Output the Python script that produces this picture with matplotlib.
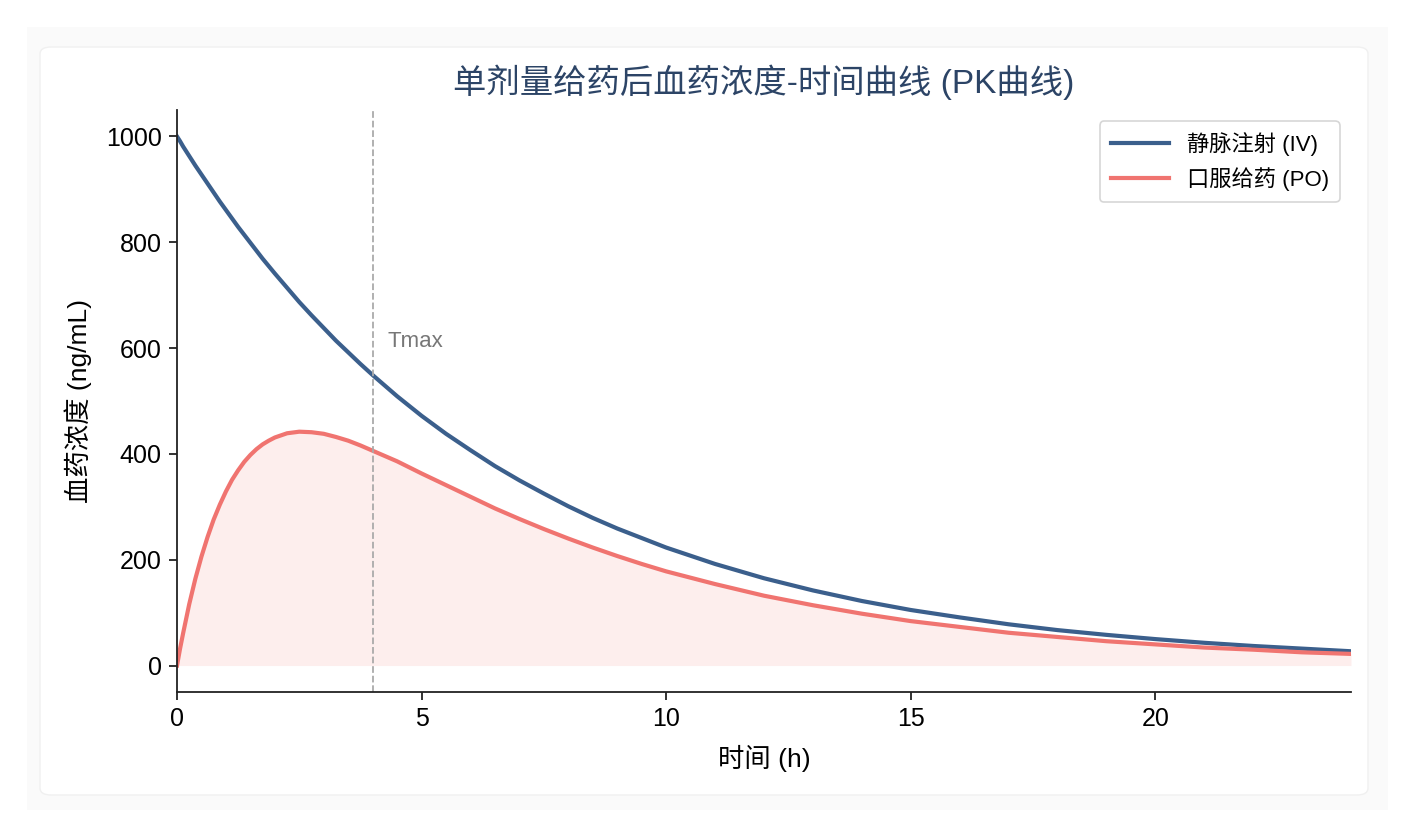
import matplotlib
matplotlib.use("Agg")
import matplotlib.pyplot as plt
from matplotlib.patches import FancyBboxPatch

plt.rcParams['font.family'] = ['Liberation Sans', 'Noto Sans CJK SC', 'DejaVu Sans']

# time points (h)
t = [0, 0.0625, 0.125, 0.25, 0.375, 0.5, 0.625, 0.75, 0.875, 1, 1.125, 1.25,
     1.375, 1.5, 1.625, 1.75, 1.875, 2, 2.25, 2.5, 2.75, 3, 3.25, 3.5, 3.75,
     4, 4.5, 5, 5.5, 6, 6.5, 7, 7.5, 8, 8.5, 9, 9.5, 10, 11, 12, 13, 14, 15,
     16, 17, 18, 19, 20, 21, 22, 23, 24]

# IV concentration (ng/mL)
iv = [1000, 991, 981, 963, 945, 928, 911, 894, 877, 861, 845, 829,
      814, 799, 784, 769, 755, 741, 714, 687, 662, 638, 614, 592, 570,
      549, 509, 472, 438, 407, 377, 350, 325, 301, 279, 259, 241, 223, 192,
      165, 142, 122, 105, 91, 78, 67, 58, 50, 43, 37, 32, 27]

# PO concentration (ng/mL)
po = [0, 32, 61, 116, 164, 206, 243, 276, 304, 329, 351, 369,
      385, 398, 409, 418, 425, 431, 439, 442, 441, 438, 432, 425, 416,
      406, 386, 363, 341, 319, 297, 277, 258, 240, 223, 207, 192, 178, 154,
      132, 114, 98, 84, 73, 62, 54, 46, 40, 34, 30, 25, 22]

tmax = 4

iv_color = '#3b5f8c'
po_color = '#f07470'

fig = plt.figure(figsize=(14.14, 8.38), dpi=100)

# background cards
outer = FancyBboxPatch((27 / 1414, 1 - 810 / 838), (1388 - 27) / 1414, (810 - 27) / 838,
                       boxstyle='square,pad=0', transform=fig.transFigure,
                       facecolor='#fafafa', edgecolor='none', zorder=-3)
inner = FancyBboxPatch((40 / 1414, 1 - 795 / 838), (1368 - 40) / 1414, (795 - 47) / 838,
                       boxstyle='round,pad=0,rounding_size=0.008', transform=fig.transFigure,
                       facecolor='white', edgecolor='#f0f0f0', linewidth=1, zorder=-2)
fig.patches.extend([outer, inner])

ax = fig.add_axes([177 / 1414, 1 - 692 / 838, (1351 - 177) / 1414, (692 - 110) / 838])
ax.set_facecolor('none')

ax.plot(t, iv, color=iv_color, linewidth=3, label='静脉注射 (IV)')
ax.plot(t, po, color=po_color, linewidth=3, label='口服给药 (PO)')
ax.fill_between(t, po, 0, color=po_color, alpha=0.12, linewidth=0)
ax.axvline(tmax, color='#aaaaaa', linestyle='--', linewidth=1.3)
ax.text(tmax + 0.3, 612, 'Tmax', color='#777777', fontsize=16, ha='left', va='center')

ax.set_xlim(0, 24)
ax.set_ylim(-50, 1050)
ax.set_xticks([0, 5, 10, 15, 20])
ax.set_yticks([0, 200, 400, 600, 800, 1000])

ax.set_title('单剂量给药后血药浓度-时间曲线 (PK曲线)', fontsize=24, color='#2c4466', pad=12)
ax.set_xlabel('时间 (h)', fontsize=19, labelpad=10)
ax.set_ylabel('血药浓度 (ng/mL)', fontsize=19, labelpad=10)

for s in ['top', 'right']:
    ax.spines[s].set_visible(False)
for s in ['left', 'bottom']:
    ax.spines[s].set_color('#222222')
    ax.spines[s].set_linewidth(1.3)
ax.tick_params(labelsize=18, length=6, width=1.3, color='#222222', pad=5)

leg = ax.legend(loc='upper right', fontsize=16, frameon=True, borderpad=0.5,
                handlelength=2.6, labelspacing=0.5)
leg.get_frame().set_edgecolor('#cccccc')
leg.get_frame().set_linewidth(1.2)

fig.savefig('out.png', dpi=100)
